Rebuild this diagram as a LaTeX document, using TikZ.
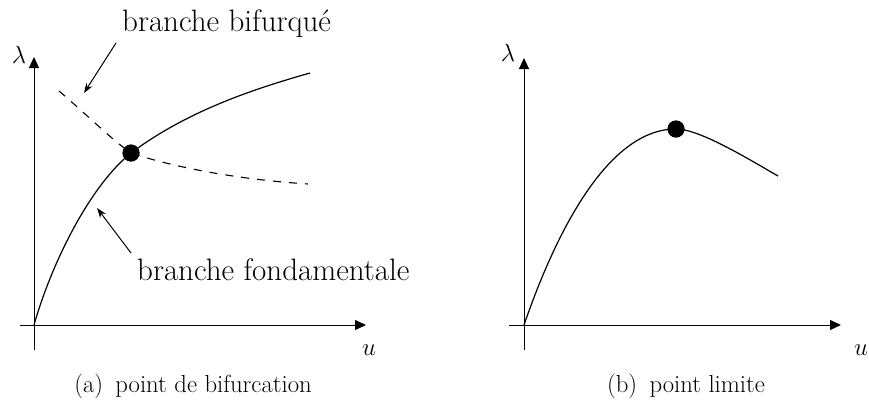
\documentclass[tikz,border=0pt]{standalone}
\usetikzlibrary{arrows.meta}
\begin{document}
\begin{tikzpicture}[x=1pt,y=-1pt,
  axis/.style={line width=1pt,-{Triangle[length=11pt,width=10pt]}},
  curve/.style={line width=1.2pt},
  branch/.style={line width=1.1pt,dash pattern=on 8pt off 8pt},
  pointer/.style={line width=1pt,-{Stealth[length=10pt,width=7pt]}},
  dotmark/.style={circle,fill=black,inner sep=0pt,minimum size=17pt},
  lbl/.style={font=\fontsize{31}{36}\selectfont,inner sep=0pt,anchor=base west},
  captext/.style={font=\fontsize{24.7}{30}\selectfont,inner sep=0pt,anchor=base},
  var/.style={font=\fontsize{30}{30}\selectfont,inner sep=0pt}]
\useasboundingbox (0,0) rectangle (869,407);
% ---------- panel (a)
\coordinate (ya0) at (34,350);
\coordinate (ya1) at (34,57);
\coordinate (xa0) at (20,325);
\coordinate (xa1) at (366,325);
\draw[axis] (ya0) -- (ya1);
\draw[axis] (xa0) -- (xa1);
\node[var] (lama) at (19,55) {$\lambda$};
\node[var] (ua) at (369,350) {$u$};
\node[dotmark] (bif) at (131,153) {};
\coordinate (oa) at (34,325);
\coordinate (fend) at (310,73);
\coordinate (bstart) at (59,91);
\coordinate (bend) at (308,184);
\draw[curve] (oa) .. controls (52,262) and (90,186) .. (bif.center)
  .. controls (186,112) and (250,90) .. (fend);
\draw[branch] (bstart) .. controls (85,113) and (112,140) .. (bif.center)
  .. controls (170,166) and (232,179) .. (bend);
\node[dotmark] at (bif) {};
\node[lbl] (lbif) at (122,31) {branche bifurqué};
\node[lbl] (lfond) at (137,280) {branche fondamentale};
\coordinate (pb0) at (116,43);
\coordinate (pb1) at (84,93);
\coordinate (pf0) at (131,253);
\coordinate (pf1) at (97,208);
\draw[pointer] (pb0) -- (pb1);
\draw[pointer] (pf0) -- (pf1);
\node[captext] (capa) at (193,392) {(a)\hspace{0.5em}point de bifurcation};
% ---------- panel (b)
\coordinate (yb0) at (524,350);
\coordinate (yb1) at (524,58);
\coordinate (xb0) at (509,325);
\coordinate (xb1) at (841,325);
\draw[axis] (yb0) -- (yb1);
\draw[axis] (xb0) -- (xb1);
\node[var] (lamb) at (508,53) {$\lambda$};
\node[var] (ub) at (861,350) {$u$};
\node[dotmark] (lim) at (676,129) {};
\coordinate (ob) at (524,325);
\coordinate (lend) at (778,176);
\draw[curve] (ob) .. controls (556,232) and (608,129) .. (lim.center)
  .. controls (700,129) and (750,160) .. (lend);
\node[dotmark] at (lim) {};
\node[captext] (capb) at (686,392) {(b)\hspace{0.5em}point limite};
\end{tikzpicture}
\end{document}
